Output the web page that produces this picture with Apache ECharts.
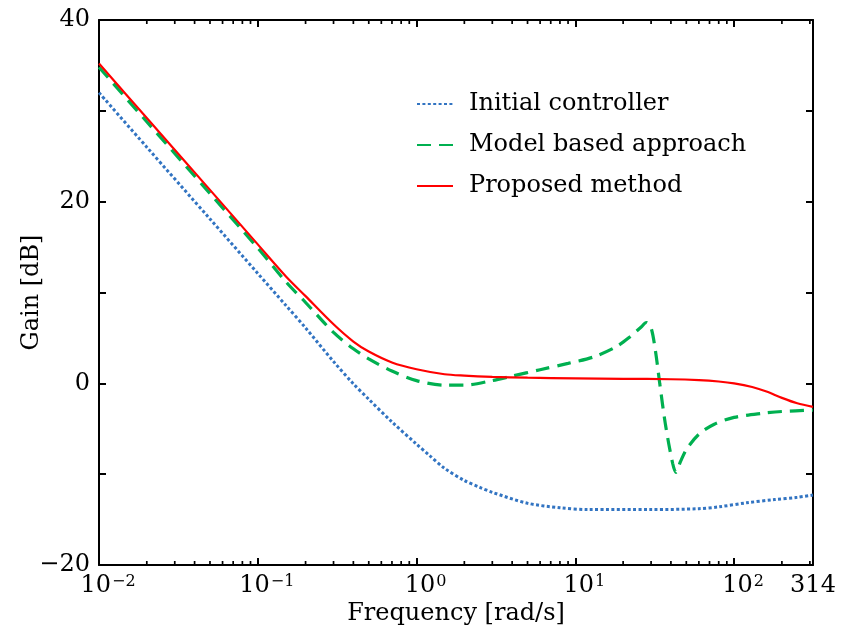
<!DOCTYPE html>
<html>
<head>
<meta charset="utf-8">
<script src="https://cdn.jsdelivr.net/npm/echarts@6/dist/echarts.min.js"></script>
<style>
  html, body { margin: 0; padding: 0; background: #fff; }
  #chart { width: 841px; height: 639px; }
</style>
</head>
<body>
<div id="chart"></div>
<script>
// values (frequency in rad/s, gain in dB)
const freqInitial = [0.01, 0.02, 0.05, 0.1, 0.15, 0.2, 0.3, 0.4, 0.5, 0.7, 1, 1.2, 1.5, 2, 2.5, 3, 5, 8, 12, 30, 60, 80, 120, 180, 250, 314];
const gainInitial = [32.0, 26.0, 18.1, 12.1, 8.6, 6.1, 2.4, -0.05, -1.75, -4.25, -6.7, -7.9, -9.35, -10.7, -11.45, -12.0, -13.2, -13.7, -13.9, -13.9, -13.8, -13.6, -13.15, -12.8, -12.55, -12.3];

const freqModel = [0.01, 0.02, 0.05, 0.1, 0.15, 0.2, 0.3, 0.4, 0.5, 0.7, 1, 1.5, 2, 3, 4, 6, 9, 13, 18, 22, 26, 28, 30, 32, 34, 37, 41, 43, 46, 50, 60, 75, 100, 150, 200, 314];
const gainModel = [34.8, 28.8, 20.9, 14.9, 11.2, 8.9, 5.6, 3.8, 2.7, 1.35, 0.3, -0.2, -0.2, 0.3, 0.8, 1.5, 2.2, 2.9, 4.0, 5.1, 6.2, 6.7, 6.1, 3.5, 0.0, -4.6, -8.8, -9.8, -8.6, -7.3, -5.6, -4.5, -3.75, -3.3, -3.1, -2.95];

const freqProposed = [0.01, 0.02, 0.05, 0.1, 0.15, 0.2, 0.3, 0.4, 0.5, 0.7, 1, 1.5, 2, 3, 5, 10, 20, 40, 60, 80, 100, 130, 160, 200, 250, 314];
const gainProposed = [35.2, 29.2, 21.3, 15.3, 11.8, 9.6, 6.5, 4.6, 3.5, 2.3, 1.55, 1.0, 0.85, 0.72, 0.62, 0.55, 0.5, 0.45, 0.35, 0.2, 0.0, -0.4, -0.9, -1.6, -2.2, -2.6];

const seriesNames = ["Initial controller", "Model based approach", "Proposed method"];

// minor ticks of the log axis (2..9 in every decade)
const minorTicks = [];
[0.01, 0.1, 1, 10, 100].forEach(function (d) {
  for (let k = 2; k <= 9; k++) {
    if (k * d < 314) minorTicks.push(k * d);
  }
});

const zip = (xs, ys) => xs.map((x, i) => [x, ys[i]]);

const serif = "DejaVu Serif";
const black = "#000";

function xLabel(value) {
  const e = Math.log10(value);
  if (Math.abs(e - Math.round(e)) < 1e-6) {
    const n = Math.round(e);
    return "{b|10}{s|" + (n < 0 ? "\u2212" + (-n) : n) + "}";
  }
  return "{n|" + Math.round(value) + "}";
}

function boxLine() {
  return { show: true, onZero: false, lineStyle: { color: black, width: 2 } };
}
function boxTick() {
  return { show: true, inside: true, length: 7, lineStyle: { color: black, width: 2 } };
}

const chart = echarts.init(document.getElementById("chart"));

const option = {
  animation: false,
  backgroundColor: "#fff",
  grid: { left: 99, right: 28, top: 20, bottom: 74, containLabel: false, outerBoundsMode: "none" },
  legend: {
    orient: "vertical",
    left: 416,
    top: 89,
    padding: 0,
    itemWidth: 36,
    itemHeight: 14,
    itemGap: 11,
    data: seriesNames,
    itemStyle: { color: "rgba(0,0,0,0)", borderColor: "rgba(0,0,0,0)", borderWidth: 0 },
    textStyle: {
      fontFamily: serif,
      fontSize: 24,
      color: black,
      lineHeight: 30,
      padding: [0, 0, 0, 11],
    },
  },
  xAxis: [
    {
      type: "log",
      logBase: 10,
      min: 0.01,
      max: 314,
      name: "Frequency [rad/s]",
      nameLocation: "middle",
      nameGap: 37,
      nameMoveOverlap: false,
      nameTextStyle: { fontFamily: serif, fontSize: 24, color: black },
      axisLine: boxLine(),
      axisTick: boxTick(),
      splitLine: { show: false },
      axisLabel: {
        margin: 9,
        showMaxLabel: true,
        showMinLabel: true,
        formatter: xLabel,
        rich: {
          b: { fontFamily: serif, fontSize: 24, color: black, lineHeight: 24, verticalAlign: "bottom", padding: [0, 0, 0, 18] },
          n: { fontFamily: serif, fontSize: 24, color: black, lineHeight: 24, verticalAlign: "bottom", padding: [2, 0, 0, 0] },
          s: { fontFamily: serif, fontSize: 16, color: black, lineHeight: 16, verticalAlign: "top", padding: [0, 0, 10, 1] },
        },
      },
    },
    {
      type: "log",
      logBase: 10,
      min: 0.01,
      max: 314,
      position: "top",
      axisLine: boxLine(),
      axisTick: boxTick(),
      axisLabel: { show: false },
      splitLine: { show: false },
    },
  ],
  yAxis: [
    {
      type: "value",
      min: -20,
      max: 40,
      interval: 10,
      name: "Gain [dB]",
      nameLocation: "middle",
      nameGap: 55,
      nameMoveOverlap: false,
      nameTextStyle: { fontFamily: serif, fontSize: 24, color: black },
      axisLine: boxLine(),
      axisTick: boxTick(),
      splitLine: { show: false },
      axisLabel: {
        margin: 9,
        fontFamily: serif,
        fontSize: 24,
        color: black,
        formatter: function (v) {
          if (v % 20 !== 0) return "";
          return v < 0 ? "\u2212" + (-v) : String(v);
        },
      },
    },
    {
      type: "value",
      min: -20,
      max: 40,
      interval: 10,
      position: "right",
      axisLine: boxLine(),
      axisTick: boxTick(),
      axisLabel: { show: false },
      splitLine: { show: false },
    },
  ],
  series: [
    {
      name: seriesNames[0],
      type: "line",
      data: zip(freqInitial, gainInitial),
      symbol: "none",
      smooth: 0.3,
      color: "#3274c2",
      lineStyle: { color: "#3274c2", width: 3, type: [3, 2.4] },
    },
    {
      name: seriesNames[1],
      type: "line",
      data: zip(freqModel, gainModel),
      symbol: "none",
      smooth: 0.3,
      color: "#00b050",
      lineStyle: { color: "#00b050", width: 3.2, type: [14, 8] },
    },
    {
      name: seriesNames[2],
      type: "line",
      data: zip(freqProposed, gainProposed),
      symbol: "none",
      smooth: 0.3,
      color: "#ff0000",
      lineStyle: { color: "#ff0000", width: 2.2 },
    },
    {
      // minor ticks on the bottom and top frame
      type: "custom",
      silent: true,
      clip: false,
      z: 5,
      data: minorTicks.map((f) => [f, 0]),
      renderItem: function (params, api) {
        const x = api.coord([api.value(0), 0])[0];
        const cs = params.coordSys;
        const style = { stroke: black, lineWidth: 1.7 };
        return {
          type: "group",
          children: [
            { type: "line", shape: { x1: x, y1: cs.y + cs.height, x2: x, y2: cs.y + cs.height - 4 }, style: style },
            { type: "line", shape: { x1: x, y1: cs.y, x2: x, y2: cs.y + 4 }, style: style },
          ],
        };
      },
    },
  ],
};

chart.setOption(option);
</script>
</body>
</html>
